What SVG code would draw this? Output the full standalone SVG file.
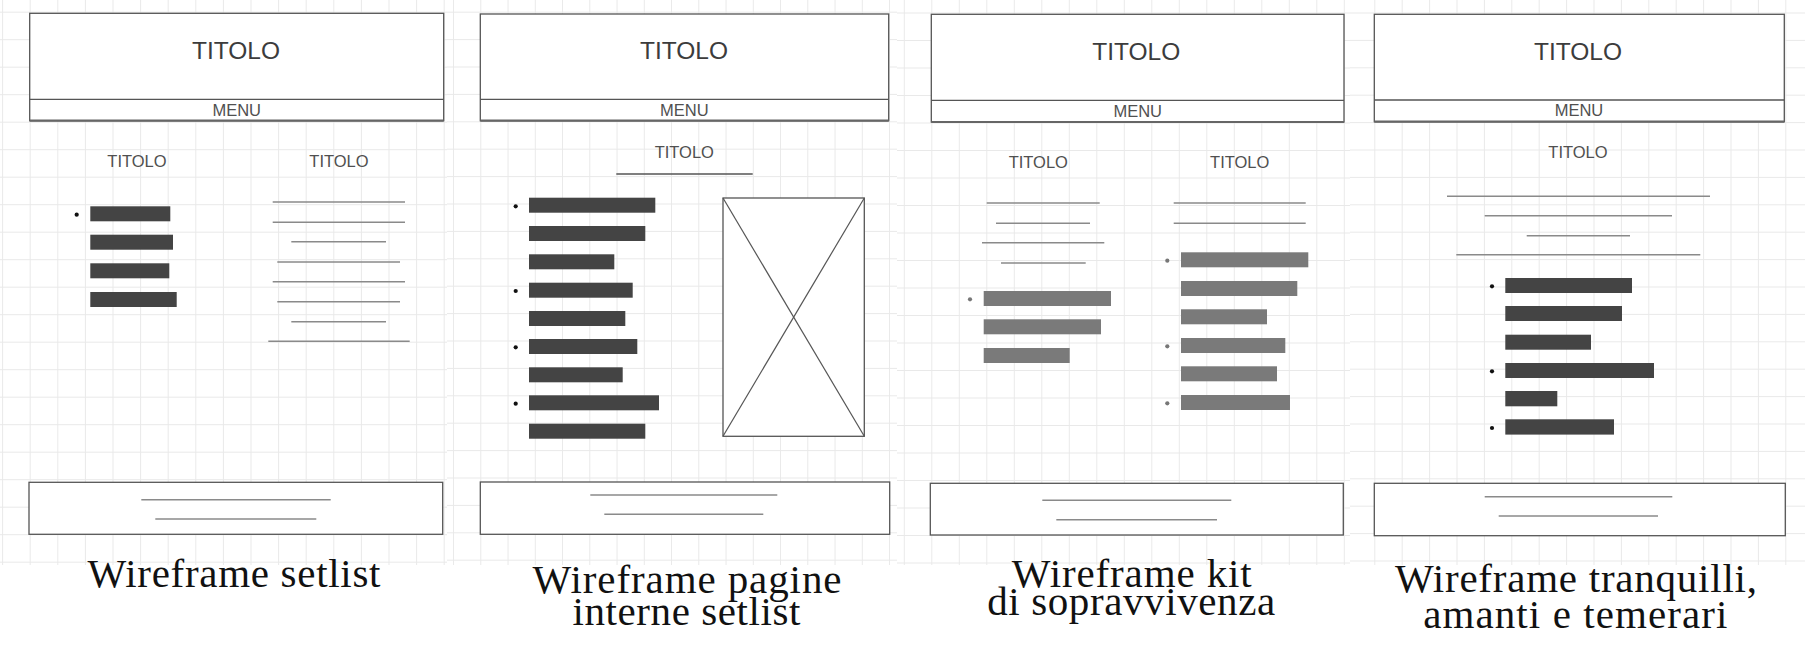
<svg xmlns="http://www.w3.org/2000/svg" width="1805" height="657" viewBox="0 0 1805 657">
  <defs>
    <style>
      .box { fill: #ffffff; stroke: #555555; stroke-width: 1.3; }
      .sep { stroke: #555555; stroke-width: 1.3; }
      .sepb { stroke: #666666; stroke-width: 2.2; }
      .ln { stroke: #8a8a8a; stroke-width: 1.6; }
      .ul { stroke: #555555; stroke-width: 1.4; }
      .bar { fill: #444444; }
      .barl { fill: #7a7a7a; }
      .dot { fill: #111111; }
      .dotl { fill: #777777; }
      .h1 { font-family: "Liberation Sans", Arial, sans-serif; font-size: 24.5px; fill: #3c3c3c; text-anchor: middle; }
      .menu { font-family: "Liberation Sans", Arial, sans-serif; font-size: 16.5px; fill: #505050; text-anchor: middle; }
      .h2 { font-family: "Liberation Sans", Arial, sans-serif; font-size: 16.5px; fill: #505050; text-anchor: middle; }
      .cap { font-family: "Liberation Serif", "Times New Roman", serif; font-size: 41px; fill: #111111; text-anchor: middle; }
      .xl { stroke: #555555; stroke-width: 1.2; }
    </style>
    <pattern id="g1" patternUnits="userSpaceOnUse" x="29.7" y="11.7" width="27.6" height="27.5">
      <path d="M0.5 0V27.5M0 0.5H27.6" stroke="#e9e9e9" stroke-width="1" fill="none"/>
    </pattern>
    <pattern id="g2" patternUnits="userSpaceOnUse" x="480.3" y="11.7" width="27.25" height="27.4">
      <path d="M0.5 0V27.4M0 0.5H27.25" stroke="#e9e9e9" stroke-width="1" fill="none"/>
    </pattern>
    <pattern id="g3" patternUnits="userSpaceOnUse" x="931.3" y="12.5" width="27.5" height="27.5">
      <path d="M0.5 0V27.5M0 0.5H27.5" stroke="#e9e9e9" stroke-width="1" fill="none"/>
    </pattern>
    <pattern id="g4" patternUnits="userSpaceOnUse" x="1374.3" y="12.5" width="27.4" height="27.4">
      <path d="M0.5 0V27.4M0 0.5H27.4" stroke="#e9e9e9" stroke-width="1" fill="none"/>
    </pattern>
  </defs>

  <rect x="0" y="0" width="1805" height="657" fill="#ffffff"/>

  <!-- background grids -->
  <g id="grids">
    <rect x="0" y="0" width="447" height="565" fill="url(#g1)"/>
    <rect x="447" y="0" width="450" height="565" fill="url(#g2)"/>
    <rect x="897" y="0" width="453" height="565" fill="url(#g3)"/>
    <rect x="1350" y="0" width="455" height="565" fill="url(#g4)"/>
  </g>

  <!-- Wireframe 1: setlist -->
  <g id="wf-setlist">
    <rect class="box" x="29.7" y="13.3" width="414" height="107.4"/>
    <line class="sep" x1="29.7" y1="99.3" x2="443.7" y2="99.3"/>
    <line class="sepb" x1="29.7" y1="120.7" x2="443.7" y2="120.7"/>
    <text class="h1" x="236" y="59.3">TITOLO</text>
    <text class="menu" x="236.7" y="116">MENU</text>
    <text class="h2" x="137" y="167">TITOLO</text>
    <text class="h2" x="339" y="167">TITOLO</text>
    <circle class="dot" cx="76.7" cy="214.7" r="2.1"/>
    <rect class="bar" x="90.3" y="206.3" width="80" height="15"/>
    <rect class="bar" x="90.3" y="234.7" width="82.7" height="15"/>
    <rect class="bar" x="90.3" y="263.3" width="79" height="15"/>
    <rect class="bar" x="90.3" y="292" width="86.4" height="15"/>
    <line class="ln" x1="272.7" y1="202" x2="405" y2="202"/>
    <line class="ln" x1="272.7" y1="222.3" x2="405" y2="222.3"/>
    <line class="ln" x1="291.3" y1="241.7" x2="386" y2="241.7"/>
    <line class="ln" x1="277.3" y1="262" x2="400" y2="262"/>
    <line class="ln" x1="272.7" y1="281.7" x2="405" y2="281.7"/>
    <line class="ln" x1="277.3" y1="301.7" x2="400" y2="301.7"/>
    <line class="ln" x1="291.3" y1="321.7" x2="386" y2="321.7"/>
    <line class="ln" x1="268.3" y1="341.3" x2="409.7" y2="341.3"/>
    <rect class="box" x="29" y="482.3" width="413.7" height="52"/>
    <line class="ln" x1="141.3" y1="499.7" x2="330.7" y2="499.7"/>
    <line class="ln" x1="155.3" y1="519" x2="316.3" y2="519"/>
    <text class="cap" x="234" y="587.3" textLength="293" lengthAdjust="spacing">Wireframe setlist</text>
  </g>

  <!-- Wireframe 2: inner setlist pages -->
  <g id="wf-pagine-interne">
    <rect class="box" x="480.3" y="14" width="408.4" height="106.7"/>
    <line class="sep" x1="480.3" y1="99.3" x2="888.7" y2="99.3"/>
    <line class="sepb" x1="480.3" y1="120.7" x2="888.7" y2="120.7"/>
    <text class="h1" x="684" y="59.3">TITOLO</text>
    <text class="menu" x="684.3" y="116">MENU</text>
    <text class="h2" x="684.3" y="158.3">TITOLO</text>
    <line class="ul" x1="616.3" y1="174" x2="752.7" y2="174"/>
    <circle class="dot" cx="515.7" cy="206.3" r="2.1"/>
    <circle class="dot" cx="515.7" cy="291" r="2.1"/>
    <circle class="dot" cx="515.7" cy="347.3" r="2.1"/>
    <circle class="dot" cx="515.7" cy="403.7" r="2.1"/>
    <rect class="bar" x="529" y="197.7" width="126.3" height="15"/>
    <rect class="bar" x="529" y="226" width="116.3" height="15"/>
    <rect class="bar" x="529" y="254.3" width="85.3" height="15"/>
    <rect class="bar" x="529" y="282.7" width="103.7" height="15"/>
    <rect class="bar" x="529" y="311" width="96.3" height="15"/>
    <rect class="bar" x="529" y="339" width="108.3" height="15"/>
    <rect class="bar" x="529" y="367.3" width="93.7" height="15"/>
    <rect class="bar" x="529" y="395.3" width="130" height="15"/>
    <rect class="bar" x="529" y="423.7" width="116.3" height="15"/>
    <rect class="box" x="723" y="198" width="141.3" height="238.3"/>
    <line class="xl" x1="723" y1="198" x2="864.3" y2="436.3"/>
    <line class="xl" x1="864.3" y1="198" x2="723" y2="436.3"/>
    <rect class="box" x="480.3" y="482" width="409.4" height="52.3"/>
    <line class="ln" x1="590.3" y1="495" x2="777.3" y2="495"/>
    <line class="ln" x1="604.3" y1="514.3" x2="763.3" y2="514.3"/>
    <text class="cap" x="687" y="592.7" textLength="309" lengthAdjust="spacing">Wireframe pagine</text>
    <text class="cap" x="686.5" y="625" textLength="228" lengthAdjust="spacing">interne setlist</text>
  </g>

  <!-- Wireframe 3: survival kit -->
  <g id="wf-kit">
    <rect class="box" x="931.3" y="14.3" width="412.7" height="107.7"/>
    <line class="sep" x1="931.3" y1="100.3" x2="1344" y2="100.3"/>
    <line class="sepb" x1="931.3" y1="122" x2="1344" y2="122"/>
    <text class="h1" x="1136.3" y="60.3">TITOLO</text>
    <text class="menu" x="1137.7" y="117.3">MENU</text>
    <text class="h2" x="1038.3" y="167.7">TITOLO</text>
    <text class="h2" x="1239.7" y="167.7">TITOLO</text>
    <line class="ln" x1="986.7" y1="203" x2="1099.7" y2="203"/>
    <line class="ln" x1="996" y1="223.3" x2="1090" y2="223.3"/>
    <line class="ln" x1="982" y1="242.7" x2="1104.3" y2="242.7"/>
    <line class="ln" x1="1001" y1="263" x2="1085.7" y2="263"/>
    <circle class="dotl" cx="970" cy="299.3" r="2.1"/>
    <rect class="barl" x="983.7" y="291" width="127.3" height="15"/>
    <rect class="barl" x="983.7" y="319.3" width="117.3" height="15"/>
    <rect class="barl" x="983.7" y="348" width="86" height="15"/>
    <line class="ln" x1="1173.7" y1="203" x2="1305.7" y2="203"/>
    <line class="ln" x1="1173.7" y1="223.3" x2="1305.7" y2="223.3"/>
    <circle class="dotl" cx="1167.3" cy="260.7" r="2.1"/>
    <circle class="dotl" cx="1167.3" cy="346.3" r="2.1"/>
    <circle class="dotl" cx="1167.3" cy="403.3" r="2.1"/>
    <rect class="barl" x="1181" y="252.3" width="127.3" height="15"/>
    <rect class="barl" x="1181" y="281" width="116.3" height="15"/>
    <rect class="barl" x="1181" y="309.3" width="86" height="15"/>
    <rect class="barl" x="1181" y="338" width="104.3" height="15"/>
    <rect class="barl" x="1181" y="366.3" width="96" height="15"/>
    <rect class="barl" x="1181" y="395" width="109" height="15"/>
    <rect class="box" x="930.3" y="483.3" width="413" height="51.7"/>
    <line class="ln" x1="1042.3" y1="500.3" x2="1231.3" y2="500.3"/>
    <line class="ln" x1="1056.3" y1="519.7" x2="1217" y2="519.7"/>
    <text class="cap" x="1131.7" y="587.3" textLength="240" lengthAdjust="spacing">Wireframe kit</text>
    <text class="cap" x="1131.2" y="615" textLength="288" lengthAdjust="spacing">di sopravvivenza</text>
  </g>

  <!-- Wireframe 4: tranquilli, amanti e temerari -->
  <g id="wf-tranquilli">
    <rect class="box" x="1374.3" y="14.3" width="410" height="107.4"/>
    <line class="sep" x1="1374.3" y1="100" x2="1784.3" y2="100"/>
    <line class="sepb" x1="1374.3" y1="121.7" x2="1784.3" y2="121.7"/>
    <text class="h1" x="1578" y="60.3">TITOLO</text>
    <text class="menu" x="1579" y="116">MENU</text>
    <text class="h2" x="1578" y="158.3">TITOLO</text>
    <line class="ln" x1="1447" y1="196.3" x2="1710" y2="196.3"/>
    <line class="ln" x1="1484.7" y1="215.7" x2="1672" y2="215.7"/>
    <line class="ln" x1="1526.7" y1="235.7" x2="1630" y2="235.7"/>
    <line class="ln" x1="1456.3" y1="254.7" x2="1700.3" y2="254.7"/>
    <circle class="dot" cx="1492" cy="286.3" r="2.1"/>
    <circle class="dot" cx="1492" cy="371.3" r="2.1"/>
    <circle class="dot" cx="1492" cy="428" r="2.1"/>
    <rect class="bar" x="1505.3" y="278" width="126.7" height="15"/>
    <rect class="bar" x="1505.3" y="306" width="116.7" height="15"/>
    <rect class="bar" x="1505.3" y="334.7" width="85.7" height="15"/>
    <rect class="bar" x="1505.3" y="363" width="148.7" height="15"/>
    <rect class="bar" x="1505.3" y="391" width="52" height="15.3"/>
    <rect class="bar" x="1505.3" y="419.3" width="108.7" height="15.3"/>
    <rect class="box" x="1374.3" y="483.3" width="411" height="52.4"/>
    <line class="ln" x1="1484.7" y1="496.7" x2="1672.3" y2="496.7"/>
    <line class="ln" x1="1498.7" y1="516" x2="1658" y2="516"/>
    <text class="cap" x="1576" y="591.7" textLength="362" lengthAdjust="spacing">Wireframe tranquilli,</text>
    <text class="cap" x="1575.3" y="628.3" textLength="304" lengthAdjust="spacing">amanti e temerari</text>
  </g>
</svg>
